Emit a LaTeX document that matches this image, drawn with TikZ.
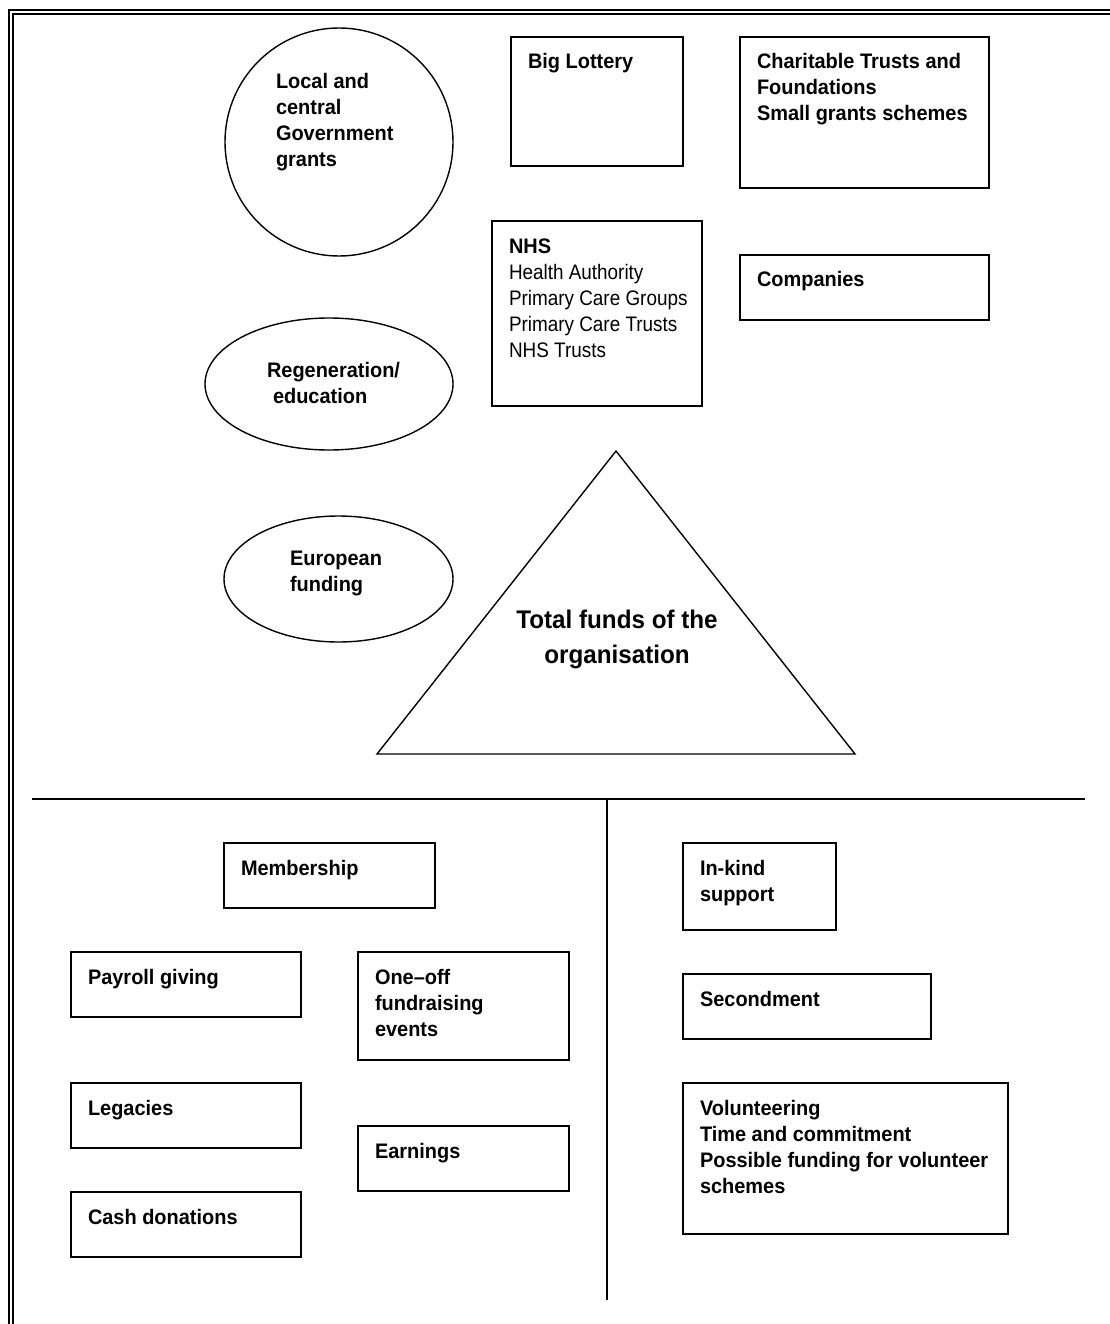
\documentclass[tikz,border=0pt]{standalone}
\usepackage{fontspec}
\newfontfamily\regfam{Liberation Sans}[FakeStretch=0.9]
\newfontfamily\boldfam{Liberation Sans}[FakeStretch=0.95]
\usetikzlibrary{shapes.geometric}
\newcommand\fstrut{\rule{0pt}{16pt}}
\newcommand\tstrut{\rule{0pt}{19pt}}
\begin{document}
\begin{tikzpicture}[x=1pt,y=-1pt,
  box/.style={draw, line width=1.8pt, rectangle, inner sep=0pt, outer sep=0pt, anchor=north west},
  oval/.style={draw, line width=1.4pt, ellipse, inner sep=0pt, outer sep=0pt},
  txt/.style={font=\boldfam\bfseries\fontsize{21}{26}\selectfont, inner sep=0pt, outer sep=0pt, align=left, anchor=north west},
  rtxt/.style={font=\regfam\fontsize{21}{26}\selectfont, inner sep=0pt, outer sep=0pt, align=left, anchor=north west},
  intl/.style={xshift=17pt, yshift=-16pt},
  rule/.style={line width=1.6pt}]
\useasboundingbox (0,0) rectangle (1110,1324);
% page border (double line)
\draw[line width=2pt] (8,10.5) -- (1110,10.5);
\draw[line width=1.4pt] (12.5,14.2) -- (1110,14.2);
\draw[line width=2pt] (9,9.5) -- (9,1324);
\draw[line width=1.4pt] (13,13.5) -- (13,1324);

% top: circle and ellipses
\node[oval, circle, minimum size=228pt] (gov) at (339,142) {};
\node[txt] (tgov) at (276,73) {\fstrut Local and\\central\\Government\\grants};
\node[oval, minimum width=248pt, minimum height=132pt] (regen) at (329,384) {};
\node[txt] (tregen) at (267,361) {\fstrut Regeneration/\\\hspace*{6pt}education};
\node[oval, minimum width=229pt, minimum height=126pt] (euro) at (338.5,579) {};
\node[txt] (teuro) at (290,549) {\fstrut European\\funding};

% top boxes
\node[box, minimum width=172pt, minimum height=129pt] (big) at (511,37) {};
\node[txt, intl] (tbig) at (big.north west) {\fstrut Big Lottery};
\node[box, minimum width=249pt, minimum height=151pt] (char) at (740,37) {};
\node[txt, intl] (tchar) at (char.north west) {\fstrut Charitable Trusts and\\Foundations\\Small grants schemes};
\node[box, minimum width=210pt, minimum height=185pt] (nhs) at (492,221) {};
\node[rtxt, intl] (tnhs) at (nhs.north west) {\fstrut{\boldfam\bfseries NHS}\\Health Authority\\Primary Care Groups\\Primary Care Trusts\\NHS Trusts};
\node[box, minimum width=249pt, minimum height=65pt] (comp) at (740,255) {};
\node[txt, intl] (tcomp) at (comp.north west) {\fstrut Companies};

% triangle
\coordinate (apex) at (616,451);
\coordinate (bl) at (377,754);
\coordinate (br) at (855,754);
\draw[line width=1.4pt, line join=miter] (apex) -- (br) -- (bl) -- cycle;
\node[font=\boldfam\bfseries\fontsize{25.5}{35}\selectfont, inner sep=0pt, align=center, anchor=north] (ttot) at (617,609) {\tstrut Total funds of the\\organisation};

% dividing lines
\coordinate (hl) at (32,799);
\coordinate (hr) at (1085,799);
\coordinate (vt) at (607,799);
\coordinate (vb) at (607,1300);
\draw[rule] (hl) -- (hr);
\draw[rule] (vt) -- (vb);

% bottom left boxes
\node[box, minimum width=211pt, minimum height=65pt] (memb) at (224,843) {};
\node[txt, intl] (tmemb) at (memb.north west) {\fstrut Membership};
\node[box, minimum width=230pt, minimum height=65pt] (pay) at (71,952) {};
\node[txt, intl] (tpay) at (pay.north west) {\fstrut Payroll giving};
\node[box, minimum width=211pt, minimum height=108pt] (one) at (358,952) {};
\node[txt, intl] (tone) at (one.north west) {\fstrut One–off\\fundraising\\events};
\node[box, minimum width=230pt, minimum height=65pt] (leg) at (71,1083) {};
\node[txt, intl] (tleg) at (leg.north west) {\fstrut Legacies};
\node[box, minimum width=211pt, minimum height=65pt] (earn) at (358,1126) {};
\node[txt, intl] (tearn) at (earn.north west) {\fstrut Earnings};
\node[box, minimum width=230pt, minimum height=65pt] (cash) at (71,1192) {};
\node[txt, intl] (tcash) at (cash.north west) {\fstrut Cash donations};

% bottom right boxes
\node[box, minimum width=153pt, minimum height=87pt] (kind) at (683,843) {};
\node[txt, intl] (tkind) at (kind.north west) {\fstrut In-kind\\support};
\node[box, minimum width=248pt, minimum height=65pt] (sec) at (683,974) {};
\node[txt, intl] (tsec) at (sec.north west) {\fstrut Secondment};
\node[box, minimum width=325pt, minimum height=151pt] (vol) at (683,1083) {};
\node[txt, intl] (tvol) at (vol.north west) {\fstrut Volunteering\\Time and commitment\\Possible funding for volunteer\\schemes};
\end{tikzpicture}
\end{document}
